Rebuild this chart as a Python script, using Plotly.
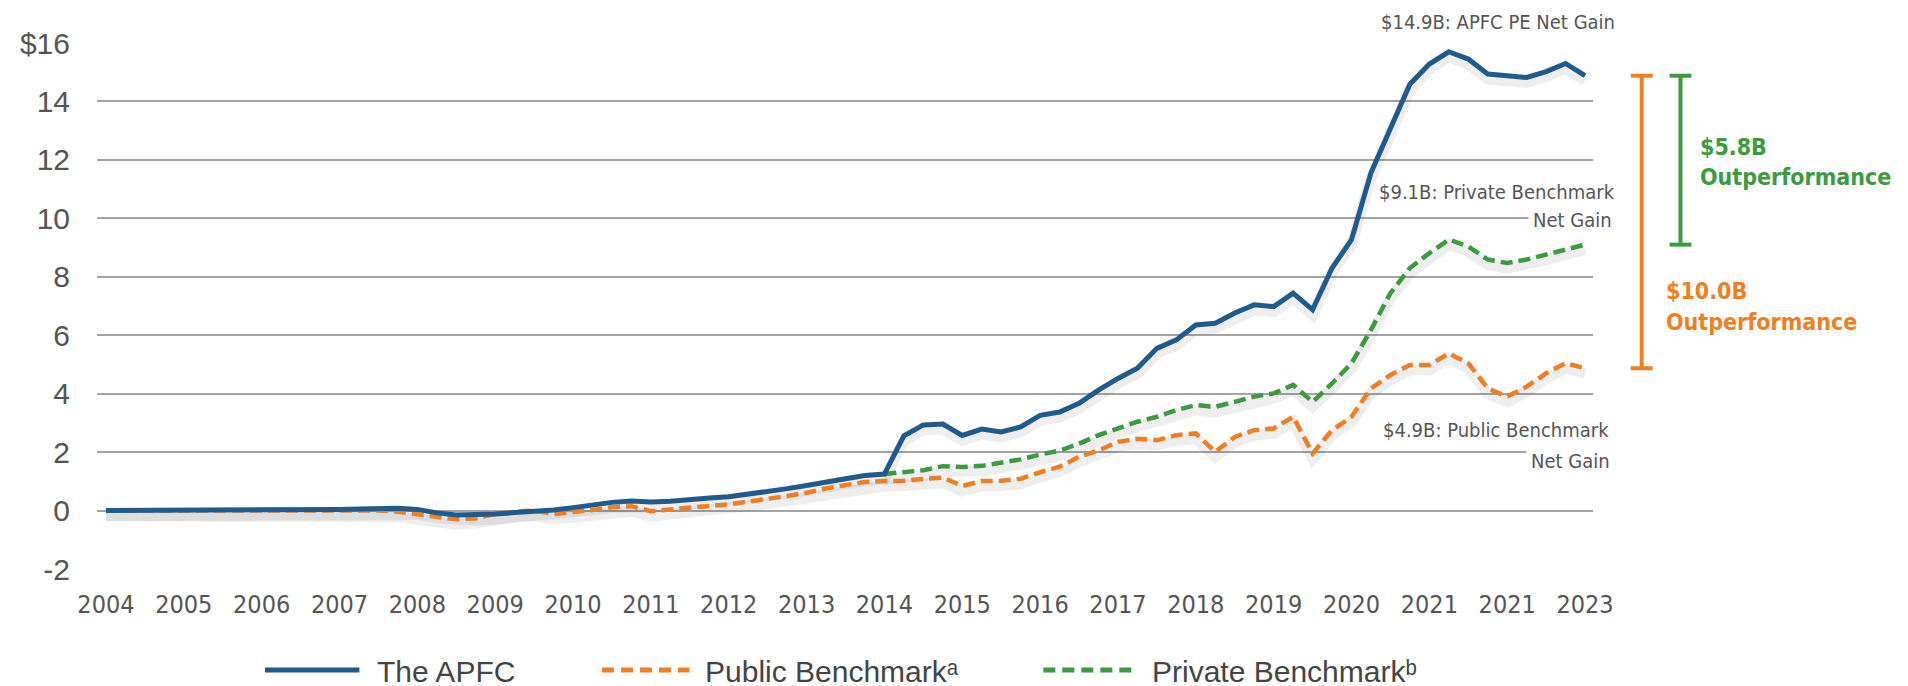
import plotly.graph_objects as go

# ---------------- data ----------------
quarters = list(range(77))  # quarterly points, 2004 .. 2023
tick_positions = list(range(0, 77, 4))
tick_labels = ["2004", "2005", "2006", "2007", "2008", "2009", "2010", "2011",
               "2012", "2013", "2014", "2015", "2016", "2017", "2018", "2019",
               "2020", "2021", "2021", "2023"]
y_tick_values = [-2, 0, 2, 4, 6, 8, 10, 12, 14, 16]
y_tick_labels = ["-2", "0", "2", "4", "6", "8", "10", "12", "14", "$16"]

apfc = [0.00, 0.00, 0.00, 0.00, 0.00, 0.00, 0.01, 0.01, 0.01, 0.02, 0.02, 0.03,
        0.04, 0.05, 0.07, 0.08, 0.04, -0.08,
        -0.15, -0.15, -0.12, -0.07, -0.03, 0.02,
        0.10, 0.20, 0.28, 0.33, 0.29, 0.32,
        0.39, 0.43, 0.47, 0.55, 0.63, 0.75,
        0.86, 0.99, 1.09, 1.20, 1.25, 2.56,
        2.93, 2.96, 2.57, 2.79, 2.69, 2.86,
        3.26, 3.37, 3.67, 4.12, 4.52, 4.87,
        5.55, 5.84, 6.35, 6.41, 6.76, 7.04,
        6.98, 7.44, 6.87, 8.30, 9.27, 11.56,
        13.05, 14.59, 15.28, 15.70, 15.45, 14.94,
        14.88, 14.82, 15.02, 15.30, 14.88]

public = [0.00, 0.00, 0.00, 0.00, 0.00, 0.00, 0.00, 0.01, 0.01, 0.02, 0.02, 0.02,
          0.03, 0.02, 0.00, -0.04, -0.13, -0.24,
          -0.30, -0.26, -0.12, -0.04, 0.00, -0.12,
          -0.06, 0.02, 0.11, 0.15, -0.02, 0.04,
          0.13, 0.16, 0.21, 0.30, 0.41, 0.50,
          0.61, 0.76, 0.87, 0.98, 1.01, 1.02,
          1.08, 1.13, 0.84, 1.01, 1.02, 1.09,
          1.31, 1.50, 1.84, 2.06, 2.35, 2.46,
          2.41, 2.58, 2.64, 2.01, 2.52, 2.75,
          2.81, 3.21, 1.95, 2.75, 3.21, 4.18,
          4.64, 4.98, 4.98, 5.38, 5.04, 4.18,
          3.90, 4.24, 4.70, 5.04, 4.87]

private = [None] * 40 + [
    1.25, 1.30, 1.38, 1.52, 1.49, 1.53,
    1.63, 1.75, 1.92, 2.05, 2.29, 2.58,
    2.81, 3.04, 3.21, 3.44, 3.61, 3.55,
    3.72, 3.90, 4.01, 4.30, 3.72, 4.35,
    5.04, 6.18, 7.44, 8.30, 8.81, 9.27,
    9.04, 8.59, 8.47, 8.59, 8.76, 8.93, 9.10]

series_names = ["The APFC", "Public Benchmark", "Private Benchmark"]
legend_marks = ["", "\u1d43", "\u1d47"]  # superscript a / b footnote marks
end_labels = ["$14.9B: APFC PE Net Gain", "$9.1B: Private Benchmark", "$4.9B: Public Benchmark"]
gain_label = "Net Gain"
outperf_private = ["$5.8B", "Outperformance"]
outperf_public = ["$10.0B", "Outperformance"]

# ---------------- style ----------------
BLUE = "#205b8e"
ORANGE = "#f07f23"
GREEN = "#3d9b3f"
GRID = "#a4a4a4"
TEXT = "#555555"
COND = "Liberation Sans Narrow, DejaVu Sans Condensed, Arial Narrow, sans-serif"
SANS = "Liberation Sans, Arial, Helvetica, sans-serif"

W, H = 1908, 686
OFF = 8  # the page body has an 8px margin: positions below are given in window pixels
L, R, T, B = 88 - OFF, 1593 - OFF, 43 - OFF, 569 - OFF  # plot area inside the figure
PW, PH = R - L, B - T


def px(X):
    return (X - OFF - L) / PW


def py(Y):
    return (B - (Y - OFF)) / PH


shadow_shift = 5 / (PH / 18.0)  # shadow drawn ~5px below the lines

fig = go.Figure()

# soft shadows (main y axis, shifted range)
for s in (public, private, apfc):
    fig.add_trace(go.Scatter(x=quarters, y=s, mode="lines", yaxis="y",
                             line=dict(color="rgba(40,40,40,0.08)", width=11),
                             hoverinfo="skip", showlegend=False))

fig.add_trace(go.Scatter(x=quarters, y=public, name=series_names[1], mode="lines", yaxis="y2",
                         line=dict(color=ORANGE, width=4.5, dash="12px,6px"), showlegend=False))
fig.add_trace(go.Scatter(x=quarters, y=private, name=series_names[2], mode="lines", yaxis="y2",
                         line=dict(color=GREEN, width=4.5, dash="12px,6px"), showlegend=False))
fig.add_trace(go.Scatter(x=quarters, y=apfc, name=series_names[0], mode="lines", yaxis="y2",
                         line=dict(color=BLUE, width=5), showlegend=False))

step = (1585 - 97) / 76.0
x_lo = -(97 - 88) / step
x_hi = 76 + (1593 - 1585) / step

shapes = []
annotations = []


def range_bar(xpix, lo, hi, color):
    shapes.append(dict(type="line", xref="paper", yref="y2", x0=px(xpix), x1=px(xpix),
                       y0=lo, y1=hi, line=dict(color=color, width=4)))
    for v in (lo, hi):
        shapes.append(dict(type="line", xref="paper", yref="y2", x0=px(xpix - 11), x1=px(xpix + 11),
                           y0=v, y1=v, line=dict(color=color, width=4)))


range_bar(1642, public[-1], apfc[-1], ORANGE)
range_bar(1681, private[-1], apfc[-1], GREEN)

LBL = 20
# "Net Gain" labels with white background (drawn first)
for yy, xx in ((220, 1617), (461, 1615)):
    annotations.append(dict(text=gain_label, xref="paper", yref="paper", x=px(xx), y=py(yy),
                            xanchor="right", yanchor="middle", showarrow=False,
                            bgcolor="white", borderpad=4,
                            font=dict(family=COND, size=LBL, color=TEXT)))
for txt, yy, xx in ((end_labels[0], 22, 1617), (end_labels[1], 192, 1617), (end_labels[2], 430, 1611)):
    annotations.append(dict(text=txt, xref="paper", yref="paper", x=px(xx), y=py(yy),
                            xanchor="right", yanchor="middle", showarrow=False,
                            font=dict(family=COND, size=LBL, color=TEXT)))

OUT = 23
for (txt, yy) in zip(outperf_private, (147, 177)):
    annotations.append(dict(text="<b>%s</b>" % txt, xref="paper", yref="paper", x=px(1699), y=py(yy),
                            xanchor="left", yanchor="middle", showarrow=False,
                            font=dict(family=COND, size=OUT, color=GREEN)))
for (txt, yy) in zip(outperf_public, (291, 322)):
    annotations.append(dict(text="<b>%s</b>" % txt, xref="paper", yref="paper", x=px(1664), y=py(yy),
                            xanchor="left", yanchor="middle", showarrow=False,
                            font=dict(family=COND, size=OUT, color=ORANGE)))

# custom legend
LEG_LINE_Y = 670
LEG_TEXT_Y = 671
LEG = 30
legend_items = [
    (series_names[0] + legend_marks[0], BLUE, "solid", 257, 352, 368),
    (series_names[1] + legend_marks[1], ORANGE, "12px,7px", 596, 684, 698),
    (series_names[2] + legend_marks[2], GREEN, "12px,7px", 1040, 1133, 1147),
]
for label, color, dash, x0, x1, xt in legend_items:
    shapes.append(dict(type="line", xref="paper", yref="paper", x0=px(x0), x1=px(x1),
                       y0=py(LEG_LINE_Y), y1=py(LEG_LINE_Y), line=dict(color=color, width=5, dash=dash)))
    annotations.append(dict(text=label, xref="paper", yref="paper", x=px(xt), y=py(LEG_TEXT_Y),
                            xanchor="left", yanchor="middle", showarrow=False,
                            font=dict(family=SANS, size=LEG, color="#444444")))

fig.update_layout(
    width=W, height=H,
    margin=dict(l=L, r=W - R, t=T, b=H - B, pad=0),
    paper_bgcolor="white", plot_bgcolor="white",
    showlegend=False,
    xaxis=dict(range=[x_lo, x_hi], tickmode="array", tickvals=tick_positions, ticktext=tick_labels,
               showgrid=False, zeroline=False, showline=False, ticks="",
               tickfont=dict(family=COND, size=25, color=TEXT), ticklabelstandoff=18),
    yaxis=dict(range=[-2 + shadow_shift, 16 + shadow_shift], visible=False, showgrid=False, zeroline=False),
    yaxis2=dict(range=[-2, 16], overlaying="y", side="left", tickmode="array",
                tickvals=y_tick_values, ticktext=y_tick_labels,
                showgrid=True, gridcolor=GRID, gridwidth=2, zeroline=False, showline=False, ticks="",
                tickfont=dict(family=SANS, size=30, color=TEXT), ticklabelstandoff=26),
    shapes=shapes,
    annotations=annotations,
)

fig.write_html("out.html")
